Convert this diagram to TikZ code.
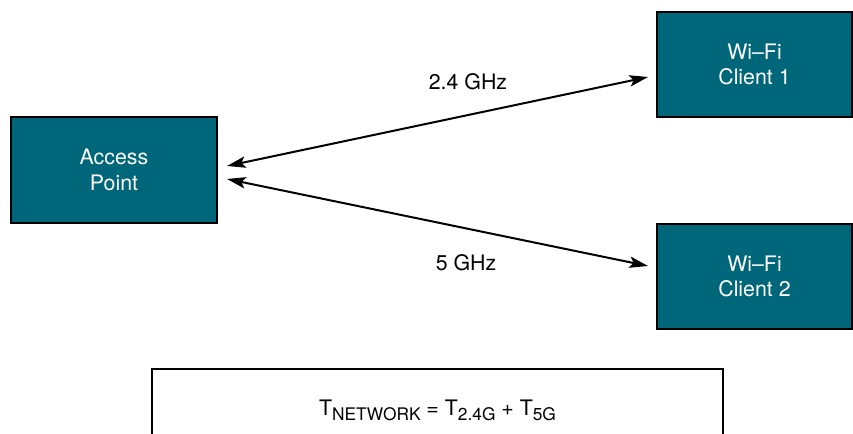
\documentclass[tikz,border=0pt]{standalone}
\usepackage{fontspec}
\setmainfont{TeX Gyre Heros}
\usepackage{xcolor}
\usepackage{tikz}
\usetikzlibrary{arrows.meta,positioning}
\definecolor{Teal}{HTML}{00667A}
\newcommand{\lowsub}[1]{\raisebox{-3.6pt}{\fontsize{13pt}{14pt}\selectfont #1}}

\begin{document}
\begin{tikzpicture}[x=0.75pt,y=-0.75pt,font=\fontsize{16pt}{19pt}\selectfont,>={Stealth[length=14pt,width=8.5pt,inset=3pt]}]
  \tikzset{devbox/.style={draw=black,line width=1.5pt,fill=Teal,text=white,align=center,
      minimum width=155pt,minimum height=79pt,inner sep=0pt},
    link/.style={<->,line width=1.5pt}}
  \useasboundingbox (0,0) rectangle (853,434);
  \node[devbox] (ap) at (114,170) {Access\\Point};
  \node[devbox,minimum width=146pt] (cl1) at (754.5,64.5) {Wi--Fi\\Client 1};
  \node[devbox,minimum width=146pt] (cl2) at (754.5,276.5) {Wi--Fi\\Client 2};
  % arrow end points, kept clear of the boxes
  \coordinate (ap24) at (227,166);
  \coordinate (ap5) at (227,179);
  \coordinate (cl1in) at (648,77);
  \coordinate (cl2in) at (648,266);
  \draw[link] (ap24) -- (cl1in);
  \draw[link] (ap5) -- (cl2in);
  \node (lab24) at (468,82) {2.4 GHz};
  \node (lab5) at (466,263) {5 GHz};
  % throughput sum, cut off at the bottom edge
  \draw[line width=1.5pt] (152,450) -- (152,369) -- (723,369) -- (723,450);
  \node (sum) at (437.5,410) {T\lowsub{NETWORK} = T\lowsub{2.4G} + T\lowsub{5G}};
\end{tikzpicture}
\end{document}
